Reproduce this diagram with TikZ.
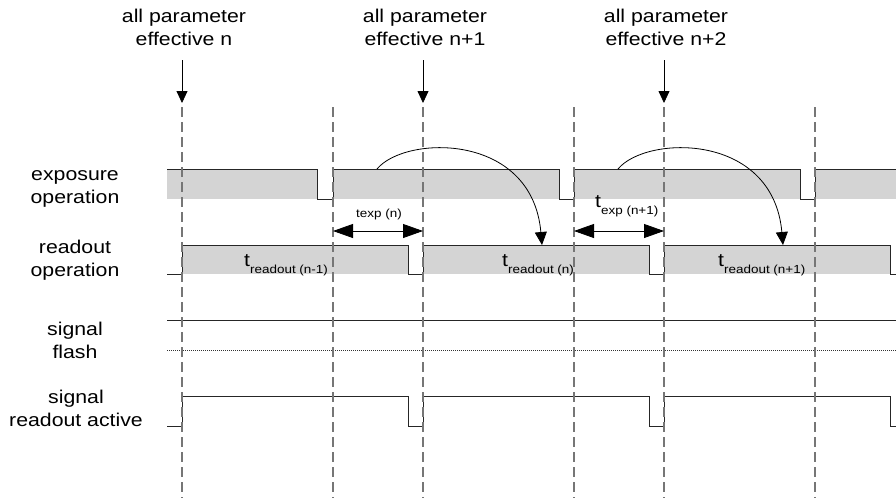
\documentclass[tikz,border=0pt]{standalone}
\usepackage{fontspec}
\setmainfont{Liberation Sans}[FakeStretch=1.15]
\usetikzlibrary{arrows.meta}

\definecolor{bandgray}{RGB}{212,212,212}
\definecolor{markgray}{RGB}{118,118,118}

% "t" with a lowered, smaller index
\newcommand\tidx[1]{t\raisebox{-7pt}{\fontsize{11.7}{14}\selectfont #1}}

\begin{document}
\begin{tikzpicture}[x=1pt,y=-1pt,
  lbl/.style={font=\fontsize{18.5}{23}\selectfont, align=center, inner sep=0pt, anchor=base},
  small/.style={font=\fontsize{11.7}{14}\selectfont, inner sep=0pt, anchor=base west},
  tlabel/.style={font=\fontsize{18.5}{22}\selectfont, inner sep=0pt, anchor=base west},
  sig/.style={line width=0.9pt, black!85},
  band/.style={fill=bandgray, draw=none},
  marker/.style={markgray, line width=1.3pt, dash pattern=on 10pt off 5pt},
  pointer/.style={line width=0.8pt, -{Triangle[length=12pt,width=11pt]}},
  span/.style={line width=0.8pt, {Triangle[length=20pt,width=14pt]}-{Triangle[length=20pt,width=14pt]}},
  hop/.style={line width=0.8pt, -{Triangle[length=13pt,width=12pt]}}
]
\useasboundingbox (0,0) rectangle (896,501);

% ---- row labels (anchored at the baseline of their last line)
\node[lbl] (lexp)  at (75,203) {exposure\\operation};
\node[lbl] (lread) at (75,276) {readout\\operation};
\node[lbl] (lflash) at (75,358) {signal\\flash};
\node[lbl] (lact)  at (76,426) {signal\\readout active};

% ---- parameter labels on top
\node[lbl] (p0) at (184,45) {all parameter\\effective n};
\node[lbl] (p1) at (425,45) {all parameter\\effective n+1};
\node[lbl] (p2) at (666,45) {all parameter\\effective n+2};

% ---- exposure operation
\fill[band] (167,169) rectangle (317,199);
\fill[band] (333,169) rectangle (559,199);
\fill[band] (574,169) rectangle (800,199);
\fill[band] (815,169) rectangle (896,199);
\draw[sig] (167,169) -- (317,169) -- (317,199) -- (333,199) -- (333,169)
  -- (559,169) -- (559,199) -- (574,199) -- (574,169)
  -- (800,169) -- (800,199) -- (815,199) -- (815,169) -- (896,169);

% ---- readout operation
\fill[band] (182,245) rectangle (408,274);
\fill[band] (423,245) rectangle (649,274);
\fill[band] (664,245) rectangle (890,274);
\draw[sig] (167,274) -- (182,274) -- (182,245) -- (408,245) -- (408,274)
  -- (423,274) -- (423,245) -- (649,245) -- (649,274)
  -- (664,274) -- (664,245) -- (890,245) -- (890,274) -- (896,274);

% ---- signal flash
\draw[sig] (167,320) -- (896,320);
\draw[line width=0.8pt, black!80, dash pattern=on 1pt off 1pt] (167,350) -- (896,350);

% ---- signal readout active
\draw[sig] (167,426) -- (182,426) -- (182,396) -- (408,396) -- (408,426)
  -- (423,426) -- (423,396) -- (649,396) -- (649,426)
  -- (664,426) -- (664,396) -- (890,396) -- (890,426) -- (896,426);

% ---- dashed time markers
\foreach \x in {182,333,423,574,664,815}
  \draw[marker] (\x,107) -- (\x,498);

% ---- parameter arrows
\coordinate (a0s) at (182,60);  \coordinate (a0e) at (182,103);
\coordinate (a1s) at (423,60);  \coordinate (a1e) at (423,103);
\coordinate (a2s) at (664,60);  \coordinate (a2e) at (664,103);
\draw[pointer] (a0s) -- (a0e);
\draw[pointer] (a1s) -- (a1e);
\draw[pointer] (a2s) -- (a2e);

% ---- exposure time spans
\coordinate (e0l) at (333,231); \coordinate (e0r) at (423,231);
\coordinate (e1l) at (574,231); \coordinate (e1r) at (664,231);
\draw[span] (e0l) -- (e0r);
\draw[span] (e1l) -- (e1r);
\node[small] (texpn) at (356,217) {texp (n)};
\node[tlabel] (texpn1) at (595,207) {\tidx{exp (n+1)}};

% ---- readout time labels
\node[tlabel] (tr0) at (244,266) {\tidx{readout (n-1)}};
\node[tlabel] (tr1) at (502,266) {\tidx{readout (n)}};
\node[tlabel] (tr2) at (718,266) {\tidx{readout (n+1)}};

% ---- exposure to readout hand-over
\coordinate (h0s) at (377,169); \coordinate (h0e) at (542,245);
\coordinate (h1s) at (618,169); \coordinate (h1e) at (783,245);
\draw[hop] (h0s) .. controls (405,135) and (532,132) .. (h0e);
\draw[hop] (h1s) .. controls (646,135) and (773,132) .. (h1e);
\end{tikzpicture}
\end{document}
